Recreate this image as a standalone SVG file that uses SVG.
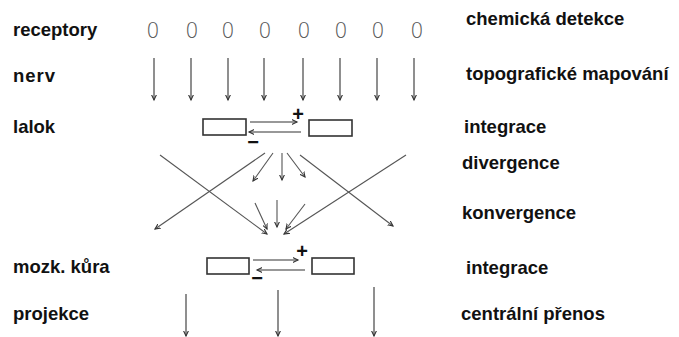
<svg xmlns="http://www.w3.org/2000/svg" width="679" height="337" viewBox="0 0 679 337">
<style>
.lbl{font-family:"Liberation Sans",Arial,sans-serif;font-weight:bold;font-size:18.5px;fill:#111}
.rec{font-family:"DejaVu Sans",sans-serif;font-stretch:condensed;font-weight:200;font-size:21px;fill:#555;text-anchor:middle}
.sign{font-family:"Liberation Sans",Arial,sans-serif;font-weight:bold;font-size:20px;fill:#111;text-anchor:middle}
.v{stroke:#333;stroke-width:1.1;fill:none;marker-end:url(#ah)}
.d{stroke:#555;stroke-width:1.1;fill:none;marker-end:url(#ah)}
.box{fill:#fff;stroke:#333;stroke-width:1.6}
</style>
<defs>
<marker id="ah" markerUnits="userSpaceOnUse" markerWidth="10" markerHeight="10" viewBox="-5 -7 10 10" refX="0" refY="0" orient="auto">
<path d="M-6,-2.8 L0,0 L-6,2.8" fill="none" stroke="#333" stroke-width="1.1"/>
</marker>
</defs>
<rect width="679" height="337" fill="#fff"/>
<g id="labels-left">
<text class="lbl" x="13" y="36">receptory</text>
<text class="lbl" x="13" y="82" letter-spacing="1">nerv</text>
<text class="lbl" x="13" y="133">lalok</text>
<text class="lbl" x="13" y="273">mozk. kůra</text>
<text class="lbl" x="13" y="320">projekce</text>
</g>
<g id="labels-right">
<text class="lbl" x="466" y="25">chemická detekce</text>
<text class="lbl" x="466" y="80">topografické mapování</text>
<text class="lbl" x="464" y="133">integrace</text>
<text class="lbl" x="462" y="169">divergence</text>
<text class="lbl" x="462" y="219">konvergence</text>
<text class="lbl" x="466" y="274">integrace</text>
<text class="lbl" x="461" y="320">centrální přenos</text>
</g>
<g id="receptors" opacity="0.99">
<text class="rec" x="153" y="38">0</text>
<text class="rec" x="192" y="38">0</text>
<text class="rec" x="228" y="38">0</text>
<text class="rec" x="265" y="38">0</text>
<text class="rec" x="304" y="38">0</text>
<text class="rec" x="341" y="38">0</text>
<text class="rec" x="378" y="38">0</text>
<text class="rec" x="417" y="38">0</text>
</g>
<g id="lalok">
<rect class="box" x="203" y="119" width="43" height="16"/>
<rect class="box" x="309" y="120" width="43" height="16"/>
<text class="sign" x="298" y="121">+</text>
<text class="sign" x="253" y="149">−</text>
</g>
<g id="kura">
<rect class="box" x="207" y="258" width="42" height="16"/>
<rect class="box" x="312" y="258" width="42" height="16"/>
<text class="sign" x="302" y="258">+</text>
<text class="sign" x="257" y="285">−</text>
</g>
<g id="connectors">
<line class="v" x1="154" y1="58" x2="154" y2="100"/>
<line class="v" x1="191" y1="58" x2="191" y2="100"/>
<line class="v" x1="228" y1="58" x2="228" y2="100"/>
<line class="v" x1="264" y1="58" x2="264" y2="100"/>
<line class="v" x1="303" y1="58" x2="303" y2="100"/>
<line class="v" x1="340" y1="58" x2="340" y2="100"/>
<line class="v" x1="377" y1="58" x2="377" y2="100"/>
<line class="v" x1="414" y1="58" x2="414" y2="100"/>
<line class="v" x1="250" y1="122" x2="297" y2="122"/>
<line class="v" x1="301" y1="132" x2="249" y2="132"/>
<line class="d" x1="160" y1="155" x2="267" y2="234"/>
<line class="d" x1="265" y1="153" x2="155" y2="229"/>
<line class="d" x1="300" y1="155" x2="393" y2="226"/>
<line class="d" x1="406" y1="155" x2="284" y2="234"/>
<line class="d" x1="273" y1="153" x2="253" y2="181"/>
<line class="d" x1="282" y1="153" x2="282" y2="180"/>
<line class="d" x1="287" y1="153" x2="305" y2="177"/>
<line class="d" x1="255" y1="203" x2="267" y2="229"/>
<line class="d" x1="277" y1="200" x2="277" y2="227"/>
<line class="d" x1="305" y1="204" x2="286" y2="229"/>
<line class="v" x1="253" y1="260" x2="298" y2="260"/>
<line class="v" x1="305" y1="270" x2="257" y2="270"/>
<line class="v" x1="186" y1="294" x2="186" y2="336"/>
<line class="v" x1="278" y1="290" x2="278" y2="336"/>
<line class="v" x1="374" y1="287" x2="374" y2="336"/>
</g>
</svg>
